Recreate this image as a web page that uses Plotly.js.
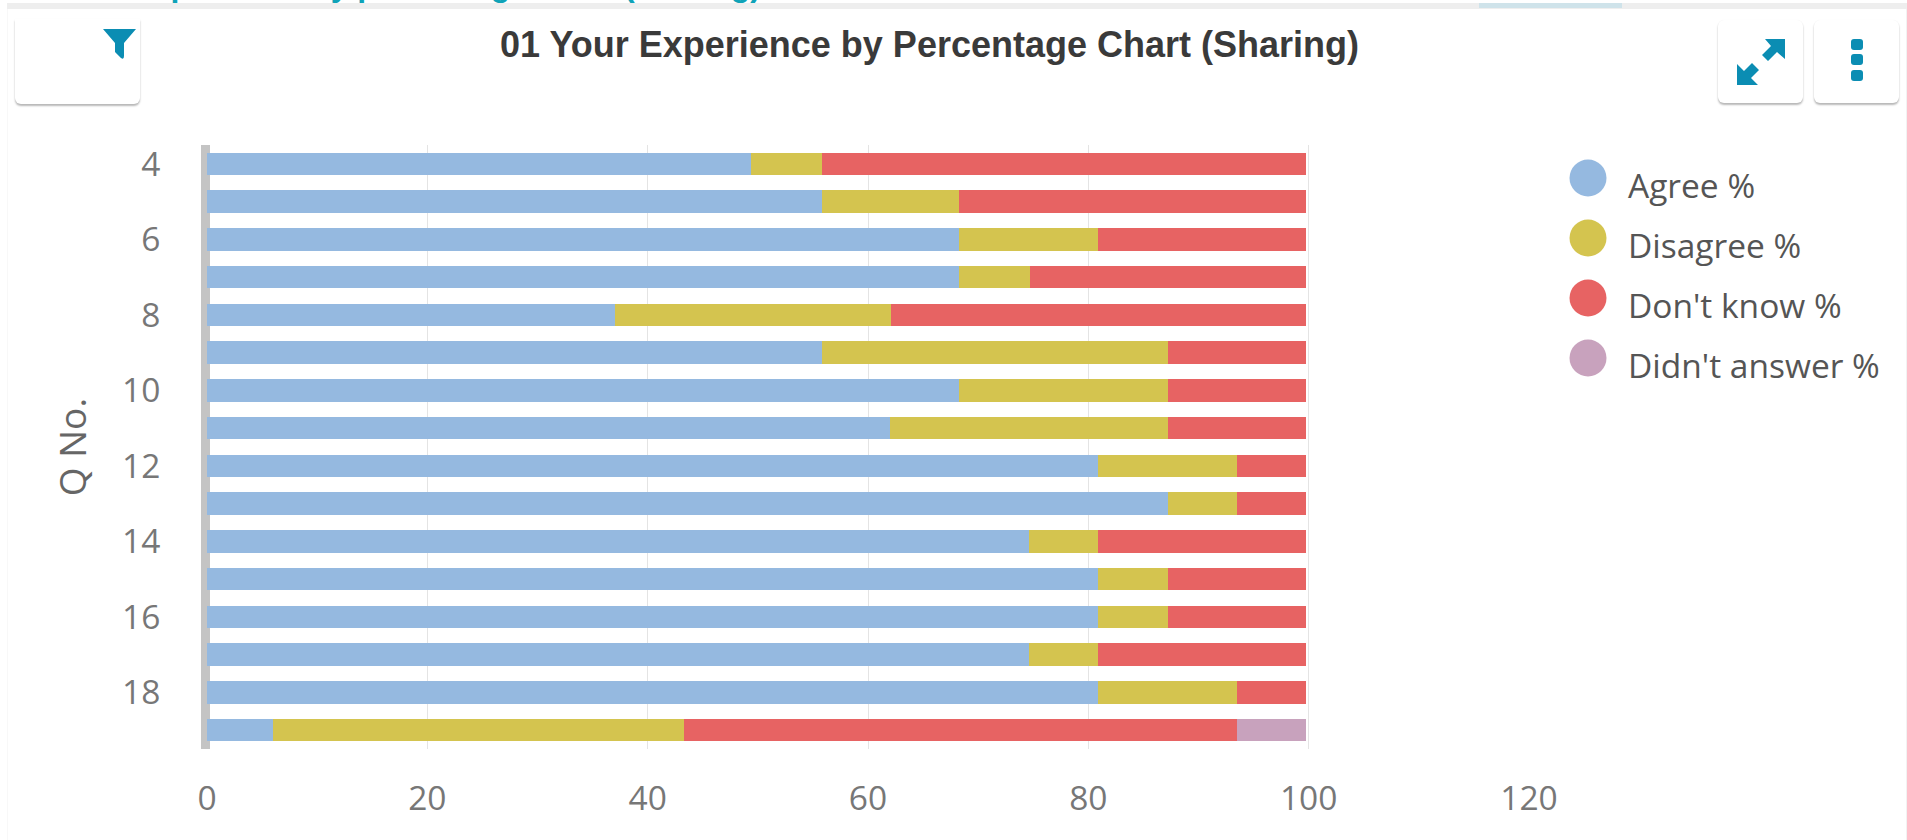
<!DOCTYPE html>
<html>
<head>
<meta charset="utf-8">
<script src="https://cdn.plot.ly/plotly-3.0.1.min.js"></script>
<style>
html,body{margin:0;padding:0;background:#fff;width:1907px;height:840px;overflow:hidden}
#chart{position:absolute;left:0;top:0;width:1907px;height:840px}
.chrome{position:absolute}
.btn{position:absolute;background:#fff;border-radius:0 0 6px 6px;box-shadow:0 2px 2px rgba(0,0,0,.28),0 0 1px rgba(0,0,0,.06)}
</style>
</head>
<body>
<div id="chart"></div>
<div class="chrome" style="left:7px;top:3px;right:0;height:6px;background:#eeeeee"></div>
<div class="chrome" style="left:1479px;top:3px;width:143px;height:5px;background:#cfe3ea"></div>
<div class="chrome" style="left:7px;top:9px;width:1px;height:831px;background:#f8f8f8"></div>
<div class="chrome" style="left:1906px;top:9px;width:1px;height:831px;background:#f2f2f2"></div>
<div class="chrome" style="left:0;top:0;width:900px;height:3px;overflow:hidden;background:#fff">
  <div style="position:absolute;left:135px;top:-33px;white-space:nowrap;font:bold 32px 'Liberation Sans';color:#0fa3b8">experience by percentage chart (sharing)</div>
</div>
<div class="btn" style="left:15px;top:19px;width:125px;height:85px;"></div>
<div class="btn" style="left:1718px;top:20px;width:85px;height:83px;border-radius:6px"></div>
<div class="btn" style="left:1814px;top:20px;width:85px;height:83px;border-radius:6px"></div>
<svg class="chrome" style="left:0;top:0" width="1907" height="120" fill="#0b8db3">
  <path d="M103 29 H136 L124 43 V56 Q124 60 121 58 L115 52 V43 Z"/>
  <path d="M1785 39 l-20 0 l6 7 l-9 9 l6 6 l9 -9 l8 7 z" />
  <path d="M1737 85 v-21 l7 7 l8 -8 l7 7 l-8 8 l7 7 z"/>
  <rect x="1851" y="39" width="12" height="11" rx="3"/>
  <rect x="1851" y="54" width="12" height="11" rx="3"/>
  <rect x="1851" y="70" width="12" height="11" rx="3"/>
</svg>
<script>
const questions = [4,5,6,7,8,9,10,11,12,13,14,15,16,17,18,19];
const agree      = [49.4,55.8,68.3,68.3,37.0,55.8,68.3,62.0,80.9,87.2,74.6,80.9,80.9,74.6,80.9,6.0];
const disagree   = [6.4,12.5,12.6,6.4,25.1,31.4,18.9,25.2,12.6,6.3,6.3,6.3,6.3,6.3,12.6,37.3];
const dontKnow   = [44.0,31.5,18.9,25.1,37.7,12.6,12.6,12.6,6.3,6.3,18.9,12.6,12.6,18.9,6.3,50.2];
const noAnswer   = [0,0,0,0,0,0,0,0,0,0,0,0,0,0,0,6.3];
const seriesNames  = ["Agree %","Disagree %","Don't know %","Didn't answer %"];
const seriesValues = [agree,disagree,dontKnow,noAnswer];
const seriesColors = ["#95b9e0","#d4c44f","#e76363","#c8a2bd"];
const xTicks = [0,20,40,60,80,100,120];
const chartTitle = "01 Your Experience by Percentage Chart (Sharing)";
const yTitle = "Q No.";

const W=1907,H=840;
const L=207,R=7,T=145,B=91;
const plotW=W-L-R, plotH=H-T-B;
const bars = seriesNames.map((n,i)=>({
  type:'bar',orientation:'h',name:n,y:questions,x:seriesValues[i],width:0.59,
  marker:{color:seriesColors[i],line:{width:0}},showlegend:false,hoverinfo:'x+name'
}));
const legendRows = seriesNames.map((_,i)=>i);
const legendMarks = {
  type:'scatter',mode:'markers',xaxis:'x2',yaxis:'y2',x:seriesNames.map(()=>48),y:legendRows,
  marker:{size:37,color:seriesColors,symbol:'circle',line:{width:0}},showlegend:false,hoverinfo:'skip',cliponaxis:false
};
const fontFam = "'Open Sans', sans-serif";
const layout = {
  width:W,height:H,paper_bgcolor:'#fff',plot_bgcolor:'rgba(0,0,0,0)',
  barmode:'stack',showlegend:false,
  margin:{l:L,r:R,t:T,b:B,pad:0},
  title:{text:chartTitle,font:{family:"'Liberation Sans', Arial, sans-serif",size:36,color:'#3a3a3a',weight:'bold'},
         x:929.5/W,xanchor:'center',xref:'container',y:1-44/H,yanchor:'middle',yref:'container'},
  xaxis:{domain:[0,1322/plotW],range:[0,120],tickvals:xTicks,ticktext:xTicks.map(String),showgrid:true,gridcolor:'#e4e4e4',gridwidth:1,
         zeroline:true,zerolinecolor:'#c4c4c4',zerolinewidth:5,showline:false,ticks:'',ticklabelstandoff:26,
         tickfont:{family:fontFam,size:33.5,color:'#777'},automargin:false},
  yaxis:{range:[19.5,3.5],tick0:4,dtick:2,showgrid:false,zeroline:false,showline:true,linecolor:'#c4c4c4',linewidth:6,layer:'below traces',
         ticks:'',ticklabelstandoff:34,tickfont:{family:fontFam,size:33.5,color:'#777'},
         title:{text:yTitle,font:{family:fontFam,size:37,color:'#666'},standoff:26},automargin:false},
  xaxis2:{domain:[(1540-L)/plotW,(1900-L)/plotW],range:[0,360],anchor:'y2',visible:false,fixedrange:true},
  yaxis2:{domain:[1-(388-T)/plotH,1-(148-T)/plotH],range:[3.5,-0.5],anchor:'x2',visible:false,fixedrange:true},
  annotations:seriesNames.map((n,i)=>({
    xref:'x2',yref:'y2',x:85.5,y:i,text:n,showarrow:false,xanchor:'left',yanchor:'middle',yshift:-7,
    font:{family:fontFam,size:33.5,color:'#555'}
  }))
};
Plotly.newPlot('chart',[...bars,legendMarks],layout,{displayModeBar:false,responsive:false});
</script>
</body>
</html>
